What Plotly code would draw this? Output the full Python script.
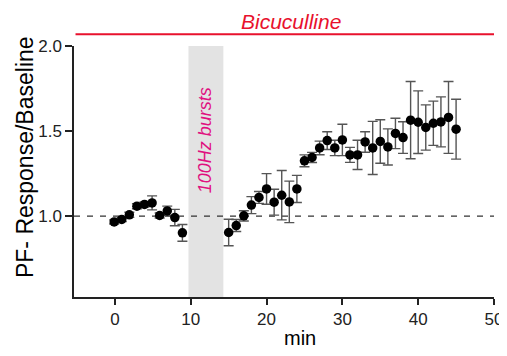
import plotly.graph_objects as go

# Baseline period
base_x = [-0.1, 0.9, 1.9, 2.9, 3.9, 4.9, 5.9, 6.9, 7.9, 8.9]
base_y = [0.966, 0.981, 1.008, 1.059, 1.069, 1.078, 1.004, 1.031, 0.992, 0.902]
base_err = [0.012, 0.012, 0.015, 0.015, 0.015, 0.041, 0.015, 0.028, 0.048, 0.049]

# After 100Hz bursts
post_x = [15, 16, 17, 18, 19, 20, 21, 22, 23, 24, 25, 26, 27, 28, 29, 30,
          31, 32, 33, 34, 35, 36, 37, 38, 39, 40, 41, 42, 43, 44, 45]
post_y = [0.904, 0.945, 1.002, 1.065, 1.110, 1.160, 1.082, 1.123, 1.084, 1.160,
          1.325, 1.345, 1.401, 1.444, 1.401, 1.448, 1.360, 1.360, 1.436, 1.401,
          1.439, 1.407, 1.486, 1.462, 1.564, 1.552, 1.521, 1.546, 1.554, 1.580, 1.511]
post_err = [0.078, 0.035, 0.030, 0.050, 0.035, 0.090, 0.076, 0.145, 0.122, 0.080,
            0.035, 0.030, 0.040, 0.052, 0.045, 0.092, 0.044, 0.086, 0.060, 0.156,
            0.128, 0.106, 0.089, 0.093, 0.227, 0.184, 0.133, 0.130, 0.147, 0.211, 0.176]

x_ticks = [0, 10, 20, 30, 40, 50]
y_ticks = [1.0, 1.5, 2.0]
burst_window = [9.7, 14.3]

FONT = "Liberation Sans, Arial, sans-serif"

fig = go.Figure()

fig.add_shape(type="rect", xref="x", yref="y", x0=burst_window[0], x1=burst_window[1],
              y0=0.525, y1=2.0, fillcolor="#e3e3e3", line_width=0, layer="below")
fig.add_shape(type="line", xref="x", yref="y", x0=-5.4, x1=50, y0=1.0, y1=1.0,
              line=dict(color="#333333", width=1.3, dash="6px,7px"), layer="below")
# red Bicuculline bar above plot
fig.add_shape(type="line", xref="x", yref="paper", x0=-5.2, x1=50.1, y0=1.047, y1=1.047,
              line=dict(color="#e8112d", width=2))

err_style = dict(type="data", visible=True, color="#555555", thickness=1.4, width=5)

for xs, ys, es in [(base_x, base_y, base_err), (post_x, post_y, post_err)]:
    fig.add_trace(go.Scatter(
        x=xs, y=ys, mode="markers",
        marker=dict(color="black", size=9.5),
        error_y=dict(array=es, **err_style),
        showlegend=False, cliponaxis=False,
    ))

fig.add_annotation(x=23.2, y=1.098, xref="x", yref="paper", text="<i>Bicuculline</i>",
                   xanchor="center", yanchor="middle", showarrow=False,
                   font=dict(family=FONT, size=21, color="#e8112d"))
fig.add_annotation(x=11.87, y=1.446, xref="x", yref="y", text="<i>100Hz bursts</i>",
                   textangle=-90, xanchor="center", yanchor="middle", showarrow=False,
                   font=dict(family=FONT, size=18, color="#e0117f"))
fig.add_annotation(x=-0.117, y=0.557, xref="paper", yref="paper", text="PF- Response/Baseline",
                   textangle=-90, xanchor="center", yanchor="middle", showarrow=False,
                   font=dict(family=FONT, size=23, color="black"))
fig.add_annotation(x=0.538, y=-0.165, xref="paper", yref="paper", text="min",
                   xanchor="center", yanchor="middle", showarrow=False,
                   font=dict(family=FONT, size=20, color="black"))

fig.update_layout(
    width=499, height=348,
    margin=dict(l=66, r=13, t=38, b=59, autoexpand=False),
    plot_bgcolor="white", paper_bgcolor="white",
    font=dict(family=FONT, size=17, color="#222222"),
    xaxis=dict(range=[-5.4, 50], tickvals=x_ticks, showgrid=False, zeroline=False,
               automargin=False, ticklabeloverflow="allow",
               showline=True, linecolor="#222222", linewidth=1.5,
               ticks="outside", ticklen=6, tickwidth=1.5, tickcolor="#222222"),
    yaxis=dict(range=[0.525, 2.0], tickvals=y_ticks, tickformat=".1f", showgrid=False,
               automargin=False,
               zeroline=False, showline=True, linecolor="#222222", linewidth=1.5,
               ticks="outside", ticklen=7, tickwidth=1.5, tickcolor="#222222"),
)

fig.write_html("out.html")
